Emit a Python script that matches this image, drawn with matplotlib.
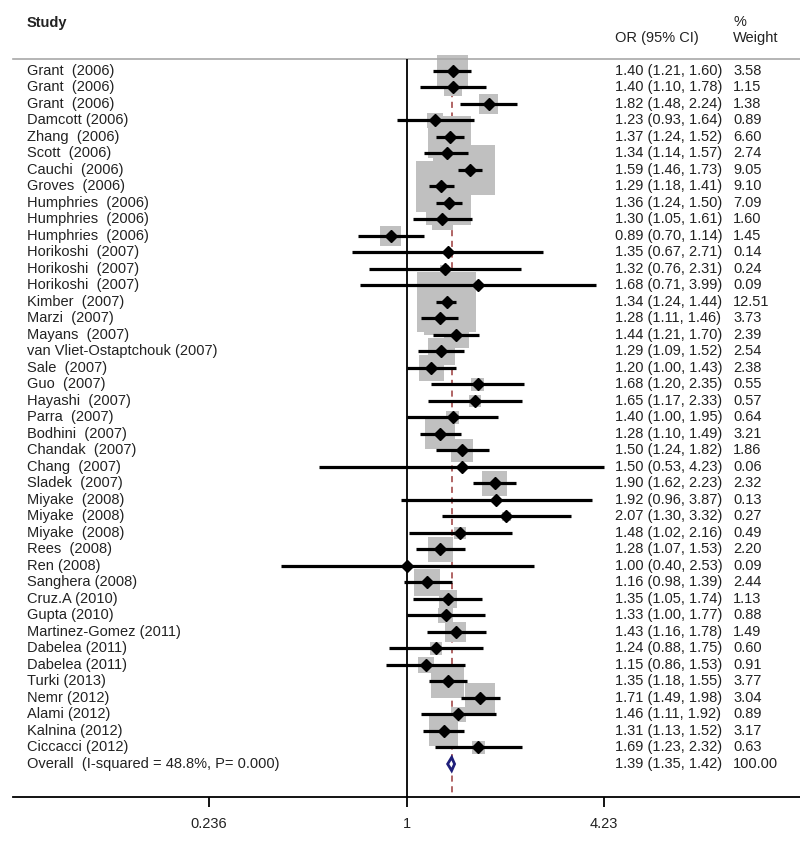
import numpy as np
import matplotlib
matplotlib.use('Agg')
import matplotlib.pyplot as plt

plt.rcParams['font.family'] = ['Liberation Sans', 'DejaVu Sans']

# study labels, as printed
STUDIES = ['Grant  (2006)', 'Grant  (2006)', 'Grant  (2006)', 'Damcott (2006)',
           'Zhang  (2006)', 'Scott  (2006)', 'Cauchi  (2006)', 'Groves  (2006)',
           'Humphries  (2006)', 'Humphries  (2006)', 'Humphries  (2006)',
           'Horikoshi  (2007)', 'Horikoshi  (2007)', 'Horikoshi  (2007)',
           'Kimber  (2007)', 'Marzi  (2007)', 'Mayans  (2007)',
           'van Vliet-Ostaptchouk (2007)', 'Sale  (2007)', 'Guo  (2007)',
           'Hayashi  (2007)', 'Parra  (2007)', 'Bodhini  (2007)', 'Chandak  (2007)',
           'Chang  (2007)', 'Sladek  (2007)', 'Miyake  (2008)', 'Miyake  (2008)',
           'Miyake  (2008)', 'Rees  (2008)', 'Ren (2008)', 'Sanghera (2008)',
           'Cruz.A (2010)', 'Gupta (2010)', 'Martinez-Gomez (2011)',
           'Dabelea (2011)', 'Dabelea (2011)', 'Turki (2013)', 'Nemr (2012)',
           'Alami (2012)', 'Kalnina (2012)', 'Ciccacci (2012)']

# odds ratios with 95% CI
OR = [1.40, 1.40, 1.82, 1.23, 1.37, 1.34, 1.59, 1.29, 1.36, 1.30, 0.89,
      1.35, 1.32, 1.68, 1.34, 1.28, 1.44, 1.29, 1.20, 1.68, 1.65, 1.40,
      1.28, 1.50, 1.50, 1.90, 1.92, 2.07, 1.48, 1.28, 1.00, 1.16, 1.35,
      1.33, 1.43, 1.24, 1.15, 1.35, 1.71, 1.46, 1.31, 1.69]
LOWER = [1.21, 1.10, 1.48, 0.93, 1.24, 1.14, 1.46, 1.18, 1.24, 1.05, 0.70,
         0.67, 0.76, 0.71, 1.24, 1.11, 1.21, 1.09, 1.00, 1.20, 1.17, 1.00,
         1.10, 1.24, 0.53, 1.62, 0.96, 1.30, 1.02, 1.07, 0.40, 0.98, 1.05,
         1.00, 1.16, 0.88, 0.86, 1.18, 1.49, 1.11, 1.13, 1.23]
UPPER = [1.60, 1.78, 2.24, 1.64, 1.52, 1.57, 1.73, 1.41, 1.50, 1.61, 1.14,
         2.71, 2.31, 3.99, 1.44, 1.46, 1.70, 1.52, 1.43, 2.35, 2.33, 1.95,
         1.49, 1.82, 4.23, 2.23, 3.87, 3.32, 2.16, 1.53, 2.53, 1.39, 1.74,
         1.77, 1.78, 1.75, 1.53, 1.55, 1.98, 1.92, 1.52, 2.32]
# % weight
WEIGHTS = [3.58, 1.15, 1.38, 0.89, 6.60, 2.74, 9.05, 9.10, 7.09, 1.60, 1.45,
           0.14, 0.24, 0.09, 12.51, 3.73, 2.39, 2.54, 2.38, 0.55, 0.57, 0.64,
           3.21, 1.86, 0.06, 2.32, 0.13, 0.27, 0.49, 2.20, 0.09, 2.44, 1.13,
           0.88, 1.49, 0.60, 0.91, 3.77, 3.04, 0.89, 3.17, 0.63]

OVERALL_LABEL = 'Overall  (I-squared = 48.8%, P= 0.000)'
OVERALL_OR = 1.39
OVERALL_LOWER = 1.35
OVERALL_UPPER = 1.42
OVERALL_WEIGHT = 100.00

TICKS = [0.236, 1, 4.23]
TICK_LABELS = ['0.236', '1', '4.23']

FS = 10.5
TXT = '#222222'

n = len(STUDIES)
rows = np.arange(n)
overall_row = n

fig = plt.figure(figsize=(8, 8.42), dpi=100)
ax = fig.add_axes([13 / 800, 1 - 797 / 842, 787 / 800, 797 / 842])
ax.set_xscale('log')
ax.set_xlim(np.exp(-2.87), np.exp(2.87))
ax.set_ylim(44.0, -4.30)

sep_y = -0.73

# dashed line at the pooled estimate, under the boxes
ax.vlines(OVERALL_OR, sep_y, 44.0, colors='#9b3a3a', linestyles=(0, (4, 3)),
          lw=1.1, zorder=1)

# weight boxes
ax.scatter(OR, rows, s=144.6 * np.array(WEIGHTS), marker='s', color='#c0c0c0',
           edgecolors='none', zorder=2)

# no-effect line
ax.vlines(1, sep_y, 44.0, colors='black', lw=1.3, zorder=3)

# confidence intervals and point estimates
ax.hlines(rows, LOWER, UPPER, colors='black', lw=2.3, zorder=4)
ax.plot(OR, rows, 'D', color='black', ms=6, zorder=5)

# pooled diamond
dx = [OVERALL_LOWER, OVERALL_OR, OVERALL_UPPER, OVERALL_OR, OVERALL_LOWER]
dy = [overall_row, overall_row - 0.4, overall_row, overall_row + 0.4, overall_row]
ax.fill(dx, dy, facecolor='white', edgecolor='#1f1f7a', lw=2, zorder=6)

# text columns
tr = ax.get_yaxis_transform()
x_study = (27 - 13) / 787
x_or = (615 - 13) / 787
x_w = (733 - 13) / 787

ax.text(x_study, -2.91, 'Study', transform=tr, fontsize=FS, fontweight='bold',
        color=TXT, va='center')
ax.text(x_or, -2.0, 'OR (95% CI)', transform=tr, fontsize=FS, color=TXT, va='center')
ax.text(x_w, -2.97, '%', transform=tr, fontsize=FS, color=TXT, va='center')
ax.text(x_w, -2.0, 'Weight', transform=tr, fontsize=FS, color=TXT, va='center')
ax.plot([0, 1], [sep_y, sep_y], transform=tr, color='#a8a8a8', lw=1.2, clip_on=False)

for i in range(n):
    ax.text(x_study, i, STUDIES[i], transform=tr, fontsize=FS, color=TXT, va='center')
    ax.text(x_or, i, '%.2f (%.2f, %.2f)' % (OR[i], LOWER[i], UPPER[i]),
            transform=tr, fontsize=FS, color=TXT, va='center')
    ax.text(x_w, i, '%.2f' % WEIGHTS[i], transform=tr, fontsize=FS, color=TXT, va='center')

ax.text(x_study, overall_row, OVERALL_LABEL, transform=tr, fontsize=FS, color=TXT, va='center')
ax.text(x_or, overall_row, '%.2f (%.2f, %.2f)' % (OVERALL_OR, OVERALL_LOWER, OVERALL_UPPER),
        transform=tr, fontsize=FS, color=TXT, va='center')
ax.text(x_w, overall_row, '%.2f' % OVERALL_WEIGHT, transform=tr, fontsize=FS,
        color=TXT, va='center')

# axis styling
for side in ['top', 'left', 'right']:
    ax.spines[side].set_visible(False)
ax.spines['bottom'].set_linewidth(1.3)
ax.set_yticks([])
ax.set_xticks(TICKS)
ax.set_xticklabels(TICK_LABELS, fontsize=FS, color=TXT)
ax.xaxis.set_minor_locator(matplotlib.ticker.NullLocator())
ax.tick_params(axis='x', direction='out', length=7.5, width=1.3, pad=7)

fig.savefig('out.png', dpi=100)
plt.close(fig)
